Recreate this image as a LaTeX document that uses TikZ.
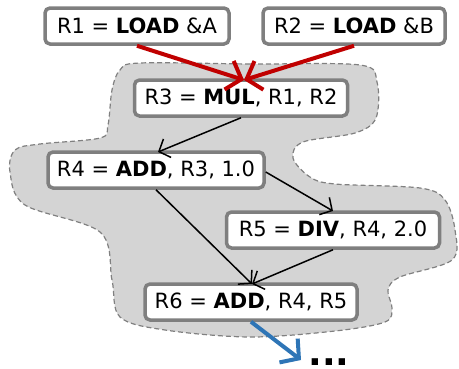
\documentclass[tikz,border=0pt]{standalone}
\usepackage{fontspec}
\setmainfont{DejaVu Sans}
\usetikzlibrary{arrows.meta}
\definecolor{boxgray}{HTML}{7F7F7F}
\definecolor{blobgray}{HTML}{D4D4D4}
\definecolor{dashgray}{HTML}{808080}
\definecolor{loadred}{HTML}{C00000}
\definecolor{outblue}{HTML}{2E75B6}
\tikzset{
  instr/.style={draw=boxgray, line width=3.5pt, fill=white, rounded corners=5pt,
    minimum height=36pt, inner xsep=3pt, inner ysep=0pt,
    font=\fontsize{21}{23}\selectfont},
  dep/.style={draw=black, line width=1.5pt, -{Straight Barb[length=9pt,width=20pt,line width=1.5pt]}},
  loaddep/.style={draw=loadred, line width=4pt, -{Straight Barb[length=13pt,width=30pt,line width=4pt]}},
  outdep/.style={draw=outblue, line width=4pt, -{Straight Barb[length=13pt,width=30pt,line width=4pt]}},
}
\begin{document}
\begin{tikzpicture}[x=1pt,y=-1pt]
\useasboundingbox (0,0) rectangle (459,368);
% region of the dataflow graph
\draw[fill=blobgray, draw=dashgray, line width=1.2pt, dash pattern=on 5pt off 3pt]
  plot[smooth cycle, tension=0.55] coordinates {
    (140,63) (250,64) (360,65) (377,82) (376,118) (355,133) (303,142) (293,158)
    (310,177) (335,184) (420,188) (445,200) (455,230) (452,260) (400,277)
    (388,290) (392,308) (385,322) (335,331) (250,337) (165,330) (120,317)
    (112,280) (100,232) (25,205) (10,172) (15,150) (40,144) (100,138)
    (108,125) (112,90) (120,70)};
\node[instr, minimum width=184pt] (r1) at (137,26) {R1 = \textbf{LOAD} \&A};
\node[instr, minimum width=182pt] (r2) at (354,26) {R2 = \textbf{LOAD} \&B};
\node[instr, minimum width=213pt] (r3) at (241,98) {R3 = \textbf{MUL}, R1, R2};
\node[instr, minimum width=216pt] (r4) at (156,170) {R4 = \textbf{ADD}, R3, 1.0};
\node[instr, minimum width=213pt] (r5) at (333,230) {R5 = \textbf{DIV}, R4, 2.0};
\node[instr, minimum width=212pt] (r6) at (251,302) {R6 = \textbf{ADD}, R4, R5};
\coordinate (r3in) at (244,80);
\coordinate (r4in) at (158,152);
\coordinate (r5in) at (333,211);
\coordinate (r6in) at (252,284);
\coordinate (nxt) at (301,360);
\draw[loaddep] (r1.south) -- (r3in);
\draw[loaddep] (r2.south) -- (r3in);
\draw[dep] (r3.south) -- (r4in);
\draw[dep] (r4.east) ++(0,2) coordinate (r4r) (r4r) -- (r5in);
\draw[dep] (r4.south) -- (r6in);
\draw[dep] (r5.south) -- (r6in);
\draw[outdep] (r6.south) -- (nxt);
\node[font=\fontsize{36}{36}\selectfont\bfseries, anchor=base, inner sep=0pt] (more) at (329,365) {...};
\end{tikzpicture}
\end{document}
